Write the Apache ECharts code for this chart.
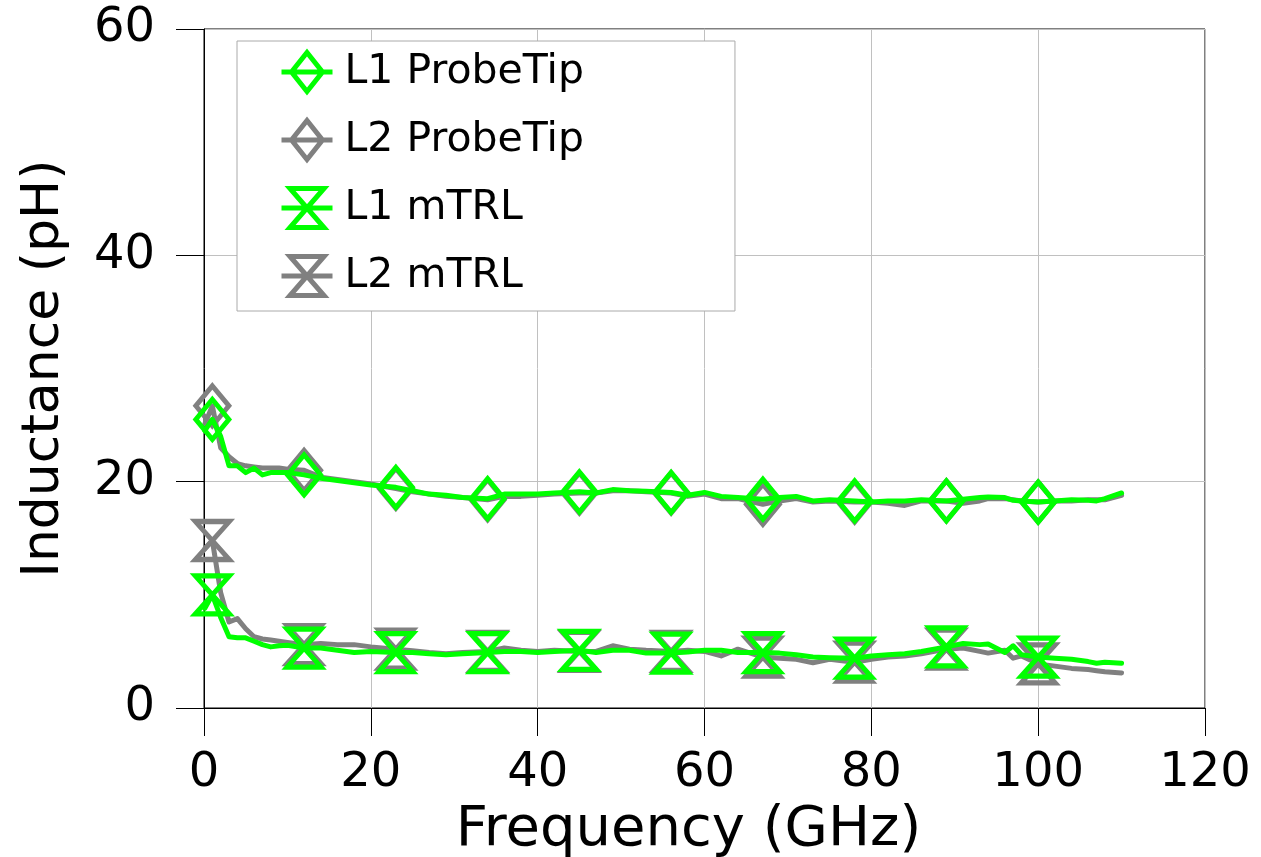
<!DOCTYPE html>
<html>
<head>
<meta charset="utf-8">
<script src="https://cdn.jsdelivr.net/npm/echarts@6/dist/echarts.min.js"></script>
<style>
  html, body { margin: 0; padding: 0; background: #fff; }
  #chart { width: 1261px; height: 857px; }
</style>
</head>
<body>
<div id="chart"></div>
<script>
// frequency points (GHz)
const freq = [0.1, 1, 2, 3, 4, 5, 6, 7, 8, 9, 10, 12, 14, 16, 18, 20, 23, 25, 27, 29,
  31, 34, 36, 38, 40, 42, 45, 47, 49, 51, 53, 56, 58, 60, 62, 64, 67, 69, 71, 73,
  75, 78, 80, 82, 84, 86, 89, 91, 93, 94, 96, 97, 98, 100, 102, 104, 106, 107, 108, 110]

// frequencies that carry a marker
const markerFreq = [1, 12, 23, 34, 45, 56, 67, 78, 89, 100]

const l1ProbeTip = [24.5, 25.5, 24.0, 21.4, 21.4, 20.8, 21.2, 20.6, 20.8, 20.8, 20.8, 20.6, 20.3, 20.1, 19.9, 19.7, 19.5, 19.2, 18.9, 18.8,
  18.6, 18.5, 18.9, 18.9, 18.9, 19.0, 19.1, 19.0, 19.3, 19.2, 19.15, 19.05, 18.8, 19.05, 18.7, 18.6, 18.45, 18.6, 18.7, 18.3,
  18.4, 18.3, 18.2, 18.3, 18.3, 18.4, 18.3, 18.45, 18.6, 18.65, 18.6, 18.35, 18.3, 18.2, 18.3, 18.4, 18.35, 18.3, 18.5, 19.0]

const l2ProbeTip = [25.1, 26.7, 23.0, 22.2, 21.6, 21.4, 21.3, 21.2, 21.2, 21.2, 21.1, 21.0, 20.4, 20.2, 20.0, 19.8, 19.4, 19.1, 18.9, 18.7,
  18.6, 18.4, 18.7, 18.7, 18.8, 18.9, 19.0, 19.0, 19.2, 19.2, 19.1, 19.0, 18.7, 18.9, 18.5, 18.5, 18.0, 18.3, 18.5, 18.2,
  18.3, 18.2, 18.2, 18.1, 17.9, 18.3, 18.3, 18.1, 18.3, 18.5, 18.5, 18.4, 18.3, 18.2, 18.3, 18.3, 18.4, 18.4, 18.4, 18.8]

const l1Mtrl = [8.8, 10.0, 8.0, 6.3, 6.2, 6.2, 5.9, 5.6, 5.4, 5.5, 5.55, 5.3, 5.3, 5.1, 4.9, 5.0, 4.9, 4.9, 4.8, 4.7,
  4.8, 4.9, 5.0, 5.0, 4.9, 5.0, 5.1, 4.9, 5.1, 5.1, 4.85, 4.85, 4.95, 5.1, 5.1, 4.9, 4.9, 4.85, 4.7, 4.5,
  4.45, 4.4, 4.6, 4.7, 4.8, 5.0, 5.4, 5.7, 5.6, 5.65, 4.9, 5.5, 4.7, 4.5, 4.4, 4.3, 4.1, 3.95, 4.05, 3.95]

const l2Mtrl = [14.1, 14.8, 10.2, 7.6, 7.9, 7.0, 6.3, 6.1, 6.0, 5.9, 5.8, 5.6, 5.7, 5.6, 5.6, 5.4, 5.2, 5.05, 4.9, 4.8,
  4.9, 5.0, 5.3, 5.1, 5.0, 5.1, 5.0, 5.0, 5.5, 5.2, 5.1, 5.0, 5.1, 5.0, 4.6, 5.2, 4.5, 4.4, 4.3, 4.0,
  4.3, 4.05, 4.3, 4.5, 4.6, 4.8, 5.2, 5.3, 5.0, 4.85, 5.1, 4.4, 4.6, 3.9, 3.7, 3.5, 3.4, 3.3, 3.2, 3.1]

const GREEN = '#00ff00'
const GRAY = '#808080'
const FONT = 'DejaVu Sans'

const hourglass = 'path://M0,0 L34,0 L0,38 L34,38 Z'
const legendDiamond = 'path://M0,19.5 L51,19.5 M25.5,0 L41,19.5 L25.5,39 L10,19.5 Z'
const legendHourglass = 'path://M0,19.5 L51,19.5 M8.5,0 L42.5,0 L8.5,39 L42.5,39 Z'

function buildData(vals) {
  return freq.map((f, i) =>
    markerFreq.includes(f) ? [f, vals[i]] : { value: [f, vals[i]], symbol: 'none' }
  )
}

function makeSeries(name, vals, color, symbol, size, z) {
  return {
    name,
    type: 'line',
    data: buildData(vals),
    symbol,
    symbolSize: size,
    showAllSymbol: true,
    z,
    lineStyle: { color, width: 5, join: 'round', cap: 'round' },
    itemStyle: { color: 'none', borderColor: color, borderWidth: 5 },
    emphasis: { disabled: true },
  }
}

const legendItem = (name, icon, color) => ({
  name,
  icon,
  itemStyle: { color: 'none', borderColor: color, borderWidth: 5 },
})

const chart = echarts.init(document.getElementById('chart'))

chart.setOption({
  animation: false,
  grid: {
    left: 204, right: 56, top: 29, bottom: 149,
    outerBoundsMode: 'none',
    show: true, borderColor: '#000', borderWidth: 1,
  },
  legend: {
    orient: 'vertical',
    left: 237,
    top: 41,
    padding: [9, 151, 13, 42],
    itemWidth: 51,
    itemHeight: 39,
    itemGap: 24,
    backgroundColor: '#fff',
    borderColor: '#aaaaaa',
    borderWidth: 1,
    textStyle: { fontFamily: FONT, fontSize: 41, color: '#000', padding: [0, 0, 0, 7] },
    data: [
      legendItem('L1 ProbeTip', legendDiamond, GREEN),
      legendItem('L2 ProbeTip', legendDiamond, GRAY),
      legendItem('L1 mTRL', legendHourglass, GREEN),
      legendItem('L2 mTRL', legendHourglass, GRAY),
    ],
  },
  xAxis: {
    type: 'value',
    min: 0,
    max: 120,
    interval: 20,
    name: 'Frequency (GHz)',
    nameLocation: 'middle',
    nameGap: 92,
    nameTextStyle: { fontFamily: FONT, fontSize: 56, color: '#000', padding: [0, 32, 0, 0] },
    axisLine: { onZero: false, lineStyle: { color: '#000', width: 1 } },
    axisTick: { length: 28, lineStyle: { color: '#000', width: 1 } },
    axisLabel: { fontFamily: FONT, fontSize: 48, color: '#000', margin: 42 },
    splitLine: { show: true, lineStyle: { color: '#c0c0c0', width: 1 } },
  },
  yAxis: {
    type: 'value',
    min: 0,
    max: 60,
    interval: 20,
    name: 'Inductance (pH)',
    nameLocation: 'middle',
    nameGap: 134,
    nameTextStyle: { fontFamily: FONT, fontSize: 52, color: '#000' },
    axisLine: { show: true, onZero: false, lineStyle: { color: '#000', width: 1 } },
    axisTick: { show: true, length: 28, lineStyle: { color: '#000', width: 1 } },
    axisLabel: { fontFamily: FONT, fontSize: 48, color: '#000', margin: 49 },
    splitLine: { show: true, lineStyle: { color: '#c0c0c0', width: 1 } },
  },
  series: [
    makeSeries('L1 ProbeTip', l1ProbeTip, GREEN, 'diamond', [33, 40], 4),
    makeSeries('L2 ProbeTip', l2ProbeTip, GRAY, 'diamond', [33, 40], 3),
    makeSeries('L1 mTRL', l1Mtrl, GREEN, hourglass, [34, 38], 4),
    makeSeries('L2 mTRL', l2Mtrl, GRAY, hourglass, [34, 38], 3),
  ],
})
</script>
</body>
</html>
